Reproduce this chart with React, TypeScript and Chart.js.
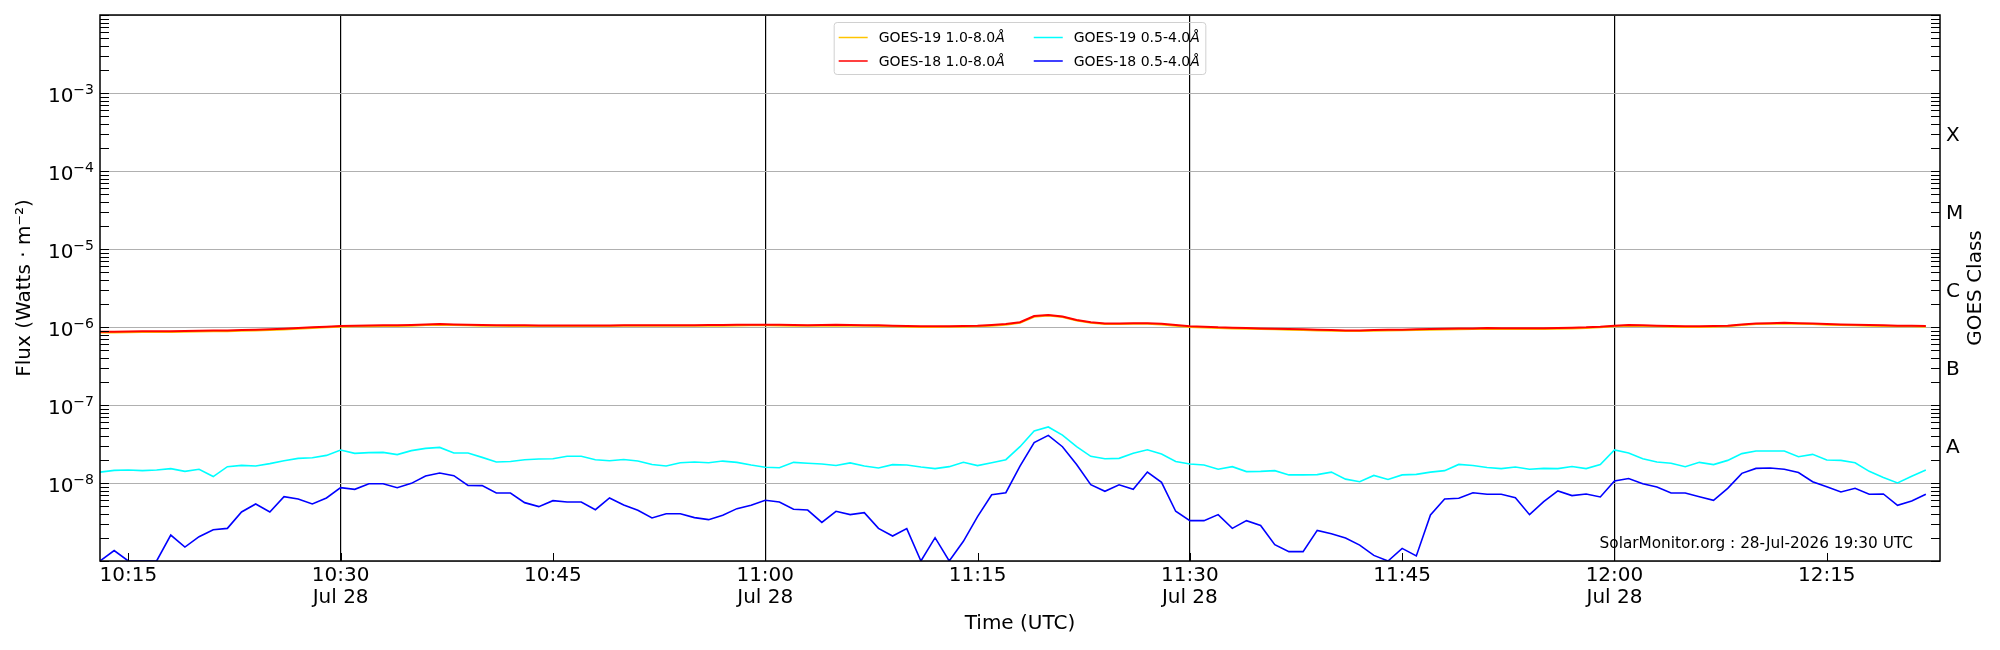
import { useEffect, useRef } from "react"
import { Chart, registerables } from "chart.js"

Chart.register(...registerables)

// one sample per minute, first sample at 10:13 UTC (minutes after 10:00)
const startMinute = 13
const axisMinMinute = 13
const axisMaxMinute = 143

// GOES-19 1.0-8.0 Å (W/m²)
const goes19Long = [
  8.5e-7, 8.5e-7, 8.55e-7, 8.6e-7, 8.6e-7, 8.65e-7, 8.7e-7, 8.75e-7, 8.8e-7, 8.85e-7,
  8.95e-7, 9.05e-7, 9.15e-7, 9.3e-7, 9.5e-7, 9.7e-7, 9.9e-7,
  1.01e-6, 1.02e-6, 1.025e-6, 1.03e-6, 1.03e-6, 1.04e-6, 1.06e-6, 1.07e-6, 1.06e-6, 1.05e-6,
  1.04e-6, 1.035e-6, 1.03e-6, 1.03e-6, 1.03e-6, 1.03e-6, 1.03e-6, 1.03e-6, 1.03e-6, 1.03e-6,
  1.035e-6, 1.035e-6, 1.035e-6, 1.035e-6, 1.04e-6, 1.04e-6, 1.04e-6, 1.04e-6, 1.045e-6, 1.05e-6,
  1.05e-6, 1.045e-6, 1.04e-6, 1.035e-6, 1.04e-6, 1.045e-6, 1.04e-6, 1.035e-6, 1.03e-6, 1.02e-6,
  1.01e-6, 1.0e-6, 1.0e-6, 1.005e-6, 1.01e-6, 1.02e-6, 1.04e-6, 1.07e-6, 1.13e-6, 1.35e-6,
  1.4e-6, 1.34e-6, 1.21e-6, 1.13e-6, 1.09e-6, 1.09e-6, 1.1e-6, 1.1e-6, 1.08e-6, 1.04e-6,
  1.0e-6, 9.85e-7, 9.7e-7, 9.6e-7, 9.5e-7, 9.4e-7, 9.35e-7, 9.25e-7, 9.15e-7, 9.05e-7,
  8.95e-7, 8.9e-7, 8.9e-7, 8.95e-7, 9.05e-7, 9.1e-7, 9.15e-7, 9.2e-7, 9.3e-7, 9.35e-7,
  9.4e-7, 9.45e-7, 9.45e-7, 9.45e-7, 9.45e-7, 9.45e-7, 9.5e-7, 9.6e-7, 9.7e-7, 9.9e-7,
  1.02e-6, 1.04e-6, 1.03e-6, 1.02e-6, 1.01e-6, 1.0e-6, 1.0e-6, 1.01e-6, 1.02e-6, 1.06e-6,
  1.09e-6, 1.1e-6, 1.11e-6, 1.1e-6, 1.09e-6, 1.07e-6, 1.06e-6, 1.05e-6, 1.04e-6, 1.03e-6,
  1.02e-6, 1.02e-6, 1.01e-6,
]

// GOES-18 1.0-8.0 Å (W/m²)
const goes18Long = [
  8.7e-7, 8.7e-7, 8.75e-7, 8.8e-7, 8.8e-7, 8.85e-7, 8.9e-7, 8.95e-7, 9.0e-7, 9.05e-7,
  9.15e-7, 9.25e-7, 9.35e-7, 9.5e-7, 9.7e-7, 9.9e-7, 1.01e-6,
  1.03e-6, 1.04e-6, 1.045e-6, 1.05e-6, 1.05e-6, 1.06e-6, 1.08e-6, 1.09e-6, 1.08e-6, 1.07e-6,
  1.06e-6, 1.055e-6, 1.05e-6, 1.05e-6, 1.045e-6, 1.045e-6, 1.045e-6, 1.045e-6, 1.045e-6, 1.045e-6,
  1.05e-6, 1.05e-6, 1.05e-6, 1.05e-6, 1.055e-6, 1.055e-6, 1.06e-6, 1.06e-6, 1.065e-6, 1.07e-6,
  1.07e-6, 1.065e-6, 1.06e-6, 1.055e-6, 1.06e-6, 1.065e-6, 1.06e-6, 1.055e-6, 1.05e-6, 1.04e-6,
  1.03e-6, 1.02e-6, 1.02e-6, 1.025e-6, 1.03e-6, 1.04e-6, 1.06e-6, 1.09e-6, 1.15e-6, 1.38e-6,
  1.42e-6, 1.36e-6, 1.23e-6, 1.15e-6, 1.11e-6, 1.11e-6, 1.12e-6, 1.12e-6, 1.1e-6, 1.06e-6,
  1.02e-6, 1.01e-6, 9.9e-7, 9.8e-7, 9.7e-7, 9.6e-7, 9.5e-7, 9.45e-7, 9.35e-7, 9.25e-7,
  9.15e-7, 9.05e-7, 9.05e-7, 9.15e-7, 9.25e-7, 9.25e-7, 9.35e-7, 9.4e-7, 9.5e-7, 9.6e-7,
  9.6e-7, 9.7e-7, 9.65e-7, 9.65e-7, 9.65e-7, 9.65e-7, 9.7e-7, 9.8e-7, 9.9e-7, 1.01e-6,
  1.04e-6, 1.06e-6, 1.05e-6, 1.04e-6, 1.03e-6, 1.02e-6, 1.02e-6, 1.03e-6, 1.04e-6, 1.08e-6,
  1.11e-6, 1.12e-6, 1.13e-6, 1.12e-6, 1.11e-6, 1.09e-6, 1.08e-6, 1.07e-6, 1.06e-6, 1.05e-6,
  1.04e-6, 1.04e-6, 1.03e-6,
]

// GOES-19 0.5-4.0 Å (W/m²)
const goes19Short = [
  1.38e-8, 1.45e-8, 1.47e-8, 1.44e-8, 1.47e-8, 1.53e-8, 1.41e-8, 1.5e-8, 1.21e-8, 1.62e-8,
  1.68e-8, 1.65e-8, 1.77e-8, 1.93e-8, 2.07e-8, 2.11e-8, 2.26e-8,
  2.65e-8, 2.4e-8, 2.45e-8, 2.47e-8, 2.31e-8, 2.6e-8, 2.78e-8, 2.86e-8, 2.42e-8, 2.42e-8,
  2.13e-8, 1.86e-8, 1.89e-8, 1.99e-8, 2.03e-8, 2.05e-8, 2.2e-8, 2.2e-8, 1.99e-8, 1.93e-8,
  2.0e-8, 1.91e-8, 1.73e-8, 1.65e-8, 1.82e-8, 1.86e-8, 1.82e-8, 1.91e-8, 1.84e-8, 1.7e-8,
  1.59e-8, 1.57e-8, 1.84e-8, 1.79e-8, 1.75e-8, 1.68e-8, 1.81e-8, 1.65e-8, 1.56e-8, 1.72e-8,
  1.7e-8, 1.6e-8, 1.53e-8, 1.62e-8, 1.84e-8, 1.67e-8, 1.82e-8, 1.99e-8, 2.92e-8, 4.65e-8,
  5.23e-8, 4.12e-8, 2.92e-8, 2.2e-8, 2.05e-8, 2.07e-8, 2.4e-8, 2.67e-8, 2.35e-8, 1.89e-8,
  1.75e-8, 1.7e-8, 1.5e-8, 1.62e-8, 1.4e-8, 1.41e-8, 1.44e-8, 1.27e-8, 1.27e-8, 1.28e-8,
  1.38e-8, 1.12e-8, 1.04e-8, 1.25e-8, 1.11e-8, 1.27e-8, 1.29e-8, 1.38e-8, 1.44e-8, 1.73e-8,
  1.68e-8, 1.58e-8, 1.53e-8, 1.6e-8, 1.5e-8, 1.54e-8, 1.53e-8, 1.63e-8, 1.53e-8, 1.72e-8,
  2.65e-8, 2.42e-8, 2.05e-8, 1.86e-8, 1.79e-8, 1.62e-8, 1.84e-8, 1.72e-8, 1.95e-8, 2.38e-8,
  2.57e-8, 2.57e-8, 2.57e-8, 2.17e-8, 2.33e-8, 1.97e-8, 1.95e-8, 1.82e-8, 1.41e-8, 1.18e-8,
  1.0e-8, 1.22e-8, 1.47e-8,
]

// GOES-18 0.5-4.0 Å (W/m²)
const goes18Short = [
  1.0e-9, 1.36e-9, 1.0e-9, 1.0e-9, 1.0e-9, 2.15e-9, 1.51e-9, 2.05e-9, 2.52e-9, 2.62e-9,
  4.25e-9, 5.38e-9, 4.25e-9, 6.68e-9, 6.24e-9, 5.38e-9, 6.43e-9,
  8.71e-9, 8.3e-9, 9.8e-9, 9.8e-9, 8.7e-9, 9.9e-9, 1.23e-8, 1.34e-8, 1.24e-8, 9.33e-9,
  9.25e-9, 7.44e-9, 7.44e-9, 5.6e-9, 4.98e-9, 5.94e-9, 5.7e-9, 5.7e-9, 4.55e-9, 6.43e-9,
  5.22e-9, 4.46e-9, 3.56e-9, 4.04e-9, 4.04e-9, 3.6e-9, 3.39e-9, 3.85e-9, 4.69e-9, 5.18e-9,
  6.0e-9, 5.7e-9, 4.6e-9, 4.5e-9, 3.13e-9, 4.34e-9, 3.93e-9, 4.17e-9, 2.62e-9, 2.09e-9,
  2.6e-9, 1.0e-9, 1.99e-9, 1.0e-9, 1.79e-9, 3.7e-9, 7.08e-9, 7.5e-9, 1.65e-8, 3.29e-8,
  4.08e-8, 2.92e-8, 1.73e-8, 9.52e-9, 7.82e-9, 9.5e-9, 8.3e-9, 1.38e-8, 1.02e-8, 4.34e-9,
  3.29e-9, 3.29e-9, 3.93e-9, 2.62e-9, 3.29e-9, 2.86e-9, 1.62e-9, 1.32e-9, 1.32e-9, 2.47e-9,
  2.24e-9, 1.97e-9, 1.6e-9, 1.18e-9, 1.0e-9, 1.45e-9, 1.16e-9, 3.89e-9, 6.24e-9, 6.37e-9,
  7.5e-9, 7.16e-9, 7.16e-9, 6.49e-9, 3.93e-9, 5.77e-9, 7.9e-9, 6.89e-9, 7.23e-9, 6.62e-9,
  1.06e-8, 1.14e-8, 9.8e-9, 8.89e-9, 7.44e-9, 7.44e-9, 6.68e-9, 6.0e-9, 8.55e-9, 1.33e-8,
  1.54e-8, 1.56e-8, 1.5e-8, 1.36e-8, 1.04e-8, 8.97e-9, 7.67e-9, 8.55e-9, 7.16e-9, 7.23e-9,
  5.18e-9, 5.88e-9, 7.16e-9,
]

const seriesLabels = ["GOES-19 1.0-8.0Å", "GOES-18 1.0-8.0Å", "GOES-19 0.5-4.0Å", "GOES-18 0.5-4.0Å"]
const seriesColors = ["#ffc400", "#ff0000", "#00ffff", "#0000ff"]

const xTickMinutes = [15, 30, 45, 60, 75, 90, 105, 120, 135]
const xTickLabels = [
  ["10:15"], ["10:30", "Jul 28"], ["10:45"], ["11:00", "Jul 28"], ["11:15"],
  ["11:30", "Jul 28"], ["11:45"], ["12:00", "Jul 28"], ["12:15"],
]
const yDecades = [1e-9, 1e-8, 1e-7, 1e-6, 1e-5, 1e-4, 1e-3, 1e-2]
const yTickBase = ["", "10", "10", "10", "10", "10", "10", ""]
const yTickExp = ["", "−8", "−7", "−6", "−5", "−4", "−3", ""]
const classFlux = [3.16e-8, 3.16e-7, 3.16e-6, 3.16e-5, 3.16e-4]
const classLabels = ["A", "B", "C", "M", "X"]

const FONT = '"DejaVu Sans", sans-serif'
const LEGEND_SIZE = 14

const toPoints = (values: number[]) => values.map((v, i) => ({ x: startMinute + i, y: v }))

function drawLabel(ctx: CanvasRenderingContext2D, text: string, x: number, y: number) {
  // the trailing Å is set in italic like matplotlib mathtext
  const head = text.slice(0, -1)
  const tail = text.slice(-1)
  ctx.font = `${LEGEND_SIZE}px ${FONT}`
  ctx.fillText(head, x, y)
  const w = ctx.measureText(head).width
  ctx.font = `italic ${LEGEND_SIZE}px ${FONT}`
  ctx.fillText(tail, x + w, y)
}

function labelWidth(ctx: CanvasRenderingContext2D, text: string) {
  ctx.font = `${LEGEND_SIZE}px ${FONT}`
  const w = ctx.measureText(text.slice(0, -1)).width
  ctx.font = `italic ${LEGEND_SIZE}px ${FONT}`
  return w + ctx.measureText(text.slice(-1)).width
}

const decorPlugin = {
  id: "goesDecor",
  afterDatasetsDraw(chart: any) {
    const { ctx, chartArea: a, scales } = chart
    const y = scales.y
    const x = scales.x
    ctx.save()
    ctx.strokeStyle = "#000"
    ctx.lineWidth = 1
    ctx.beginPath()
    for (const d of yDecades) {
      for (let m = 1; m < 10; m++) {
        const v = d * m
        if (v > y.max * 1.0001) continue
        const py = Math.round(y.getPixelForValue(v)) + 0.5
        ctx.moveTo(a.left, py)
        ctx.lineTo(a.left + 9, py)
        ctx.moveTo(a.right, py)
        ctx.lineTo(a.right - 9, py)
      }
    }
    for (const t of xTickMinutes) {
      const px = Math.round(x.getPixelForValue(t)) + 0.5
      ctx.moveTo(px, a.bottom)
      ctx.lineTo(px, a.bottom - 8)
    }
    ctx.stroke()
    ctx.lineWidth = 1.5
    ctx.strokeRect(a.left, a.top, a.right - a.left, a.bottom - a.top)
    ctx.restore()
  },
  afterDraw(chart: any) {
    const { ctx, chartArea: a, scales } = chart
    const y = scales.y
    const ds = chart.data.datasets
    ctx.save()
    ctx.fillStyle = "#000"

    // decade labels 10^n with a raised exponent
    ctx.textAlign = "right"
    ctx.textBaseline = "alphabetic"
    yDecades.forEach((v, i) => {
      if (!yTickBase[i]) return
      const py = y.getPixelForValue(v)
      const xr = a.left - 6
      ctx.font = `14px ${FONT}`
      const ew = ctx.measureText(yTickExp[i]).width
      ctx.fillText(yTickExp[i], xr, py + 0.5)
      ctx.font = `20px ${FONT}`
      ctx.fillText(yTickBase[i], xr - ew, py + 8.7)
    })

    // GOES class letters on the right (baseline-centred like matplotlib)
    ctx.textAlign = "left"
    ctx.textBaseline = "middle"
    ctx.font = `20px ${FONT}`
    classFlux.forEach((v, i) => {
      ctx.fillText(classLabels[i], a.right + 6, y.getPixelForValue(v) + 4)
    })

    // legend, two columns inside the plot at the top
    const cols = [[0, 1], [2, 3]]
    const padL = 4.5
    const lineLen = 29
    const gap = 11
    const colGap = 29
    const padR = 6
    const colW = cols.map((c) => Math.max(...c.map((i) => labelWidth(ctx, ds[i].label))))
    const boxW = padL + cols.length * (lineLen + gap) + colW[0] + colW[1] + colGap + padR
    const boxH = 52
    const cx = (a.left + a.right) / 2
    const bx = cx - boxW / 2
    const by = a.top + 7.5
    ctx.beginPath()
    ctx.roundRect(bx, by, boxW, boxH, 3)
    ctx.fillStyle = "rgba(255,255,255,0.15)"
    ctx.fill()
    ctx.strokeStyle = "#d0d0d0"
    ctx.lineWidth = 1
    ctx.stroke()
    const rowY = [by + 15, by + 38.5]
    let colX = bx + padL
    cols.forEach((c, ci) => {
      c.forEach((i, ri) => {
        const ly = rowY[ri]
        ctx.strokeStyle = ds[i].borderColor
        ctx.lineWidth = 1.5
        ctx.beginPath()
        ctx.moveTo(colX, ly)
        ctx.lineTo(colX + lineLen, ly)
        ctx.stroke()
        ctx.fillStyle = "#000"
        ctx.textBaseline = "middle"
        ctx.textAlign = "left"
        drawLabel(ctx, ds[i].label, colX + lineLen + gap, ly + 1)
      })
      colX += lineLen + gap + colW[ci] + colGap
    })

    // credit line
    ctx.font = `15.3px ${FONT}`
    ctx.fillStyle = "#000"
    ctx.textAlign = "right"
    ctx.textBaseline = "alphabetic"
    ctx.fillText("SolarMonitor.org : 28-Jul-2026 19:30 UTC", a.right - 27, a.bottom - 13)

    // right-hand axis title, reading bottom to top
    ctx.translate(a.right + 36, (a.top + a.bottom) / 2)
    ctx.rotate(-Math.PI / 2)
    ctx.font = `20px ${FONT}`
    ctx.textAlign = "center"
    ctx.textBaseline = "middle"
    ctx.fillText("GOES Class", 0, 0)
    ctx.restore()
  },
}

export default function App() {
  const chartRef = useRef<HTMLCanvasElement>(null)

  useEffect(() => {
    if (!chartRef.current) return
    const chart = new Chart(chartRef.current, {
      type: "line",
      data: {
        datasets: [goes19Long, goes18Long, goes19Short, goes18Short].map((values, i) => ({
          label: seriesLabels[i],
          data: toPoints(values),
          borderColor: seriesColors[i],
          backgroundColor: seriesColors[i],
          borderWidth: i < 2 ? 2 : 1.6,
          pointRadius: 0,
          tension: 0,
          order: [1, 0, 3, 2][i],
        })),
      },
      options: {
        animation: false,
        responsive: true,
        maintainAspectRatio: false,
        layout: { padding: { top: 15, left: 0, right: 60, bottom: 0 } },
        plugins: {
          legend: { display: false },
          tooltip: { enabled: false },
        },
        scales: {
          x: {
            type: "linear",
            min: axisMinMinute,
            max: axisMaxMinute,
            afterFit: (s: any) => {
              s.height = 89
            },
            afterBuildTicks: (s: any) => {
              s.ticks = xTickMinutes.map((v) => ({ value: v }))
            },
            ticks: {
              autoSkip: false,
              maxRotation: 0,
              minRotation: 0,
              padding: 4,
              color: "#000",
              font: { family: FONT, size: 20, lineHeight: 1.1 },
              callback: (_v: any, i: number) => xTickLabels[i],
            },
            grid: {
              drawTicks: false,
              lineWidth: 1.2,
              color: (c: any) => (c.tick && c.tick.value % 30 === 0 ? "#000" : "rgba(0,0,0,0)"),
            },
            border: { display: false },
            title: {
              display: true,
              text: "Time (UTC)",
              color: "#000",
              font: { family: FONT, size: 20 },
              padding: { top: 0, bottom: 14 },
            },
          },
          y: {
            type: "logarithmic",
            position: "left",
            min: 1e-9,
            max: 1e-2,
            afterFit: (s: any) => {
              s.width = 100
            },
            afterBuildTicks: (s: any) => {
              s.ticks = yDecades.map((v) => ({ value: v }))
            },
            ticks: { display: false },
            grid: {
              drawTicks: false,
              lineWidth: 1,
              color: "#b0b0b0",
            },
            border: { display: false },
            title: {
              display: true,
              text: "Flux (Watts · m⁻²)",
              color: "#000",
              font: { family: FONT, size: 20 },
              padding: { top: 13, bottom: 0 },
            },
          },
        },
      },
      plugins: [decorPlugin],
    })
    return () => {
      chart.destroy()
    }
  }, [])

  return (
    <div style={{ position: "absolute", left: 0, top: 0, width: 2000, height: 650, background: "#fff" }}>
      <canvas ref={chartRef} />
    </div>
  )
}
